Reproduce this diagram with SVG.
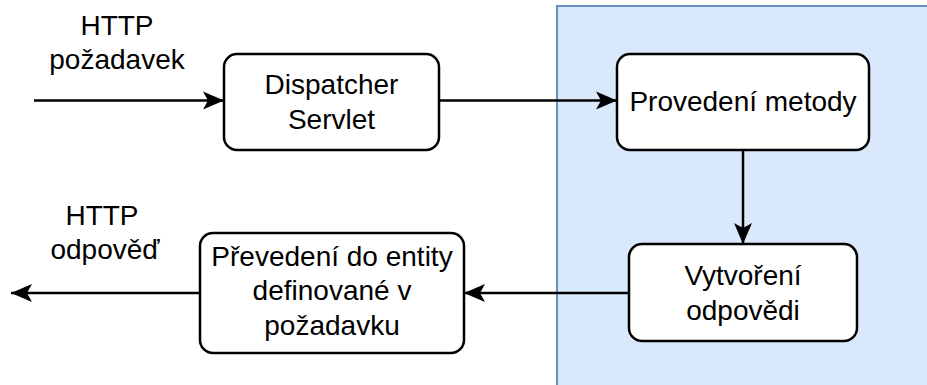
<svg xmlns="http://www.w3.org/2000/svg" width="927" height="385" viewBox="0 0 927 385">
<style>
.box{fill:#ffffff;stroke:#000000;stroke-width:2.5}
.t{font-family:"Liberation Sans",Arial,sans-serif;font-size:28px;fill:#000000;text-anchor:middle}
.c{fill:none;stroke:#000000;stroke-width:2.5}
</style>
<defs>
<marker id="ah" viewBox="0 0 22 20" markerWidth="22" markerHeight="20" refX="21" refY="10" orient="auto" markerUnits="userSpaceOnUse">
<path d="M0,1 L21,10 L0,19 L5,10 Z" fill="#000000"/>
</marker>
</defs>
<g id="region">
<rect x="557" y="6" width="400" height="400" fill="#dae8fc" stroke="#6c8ebf" stroke-width="2"/>
</g>
<g id="label-request">
<text class="t" x="117" y="35">HTTP</text>
<text class="t" x="117" y="69">požadavek</text>
</g>
<g id="label-response">
<text class="t" x="102" y="225">HTTP</text>
<text class="t" x="105" y="259">odpověď</text>
</g>
<g id="dispatcher">
<rect class="box" x="224" y="54" width="215" height="96" rx="13"/>
<text class="t" x="331.5" y="94">Dispatcher</text>
<text class="t" x="331.5" y="129">Servlet</text>
</g>
<g id="provedeni">
<rect class="box" x="617" y="54" width="252" height="96" rx="13"/>
<text class="t" x="743" y="111">Provedení metody</text>
</g>
<g id="vytvoreni">
<rect class="box" x="629" y="244" width="228" height="97" rx="13"/>
<text class="t" x="743" y="285">Vytvoření</text>
<text class="t" x="743" y="320">odpovědi</text>
</g>
<g id="prevedeni">
<rect class="box" x="200" y="233" width="264" height="120" rx="13"/>
<text class="t" x="332" y="266">Převedení do entity</text>
<text class="t" x="332" y="300">definované v</text>
<text class="t" x="332" y="335">požadavku</text>
</g>
<g id="connectors">
<path class="c" d="M34,100.5 L224,100.5" marker-end="url(#ah)"/>
<path class="c" d="M439,100.5 L617,100.5" marker-end="url(#ah)"/>
<path class="c" d="M743,150 L743,244" marker-end="url(#ah)"/>
<path class="c" d="M629,293 L464,293" marker-end="url(#ah)"/>
<path class="c" d="M200,293 L11,293" marker-end="url(#ah)"/>
</g>
</svg>
